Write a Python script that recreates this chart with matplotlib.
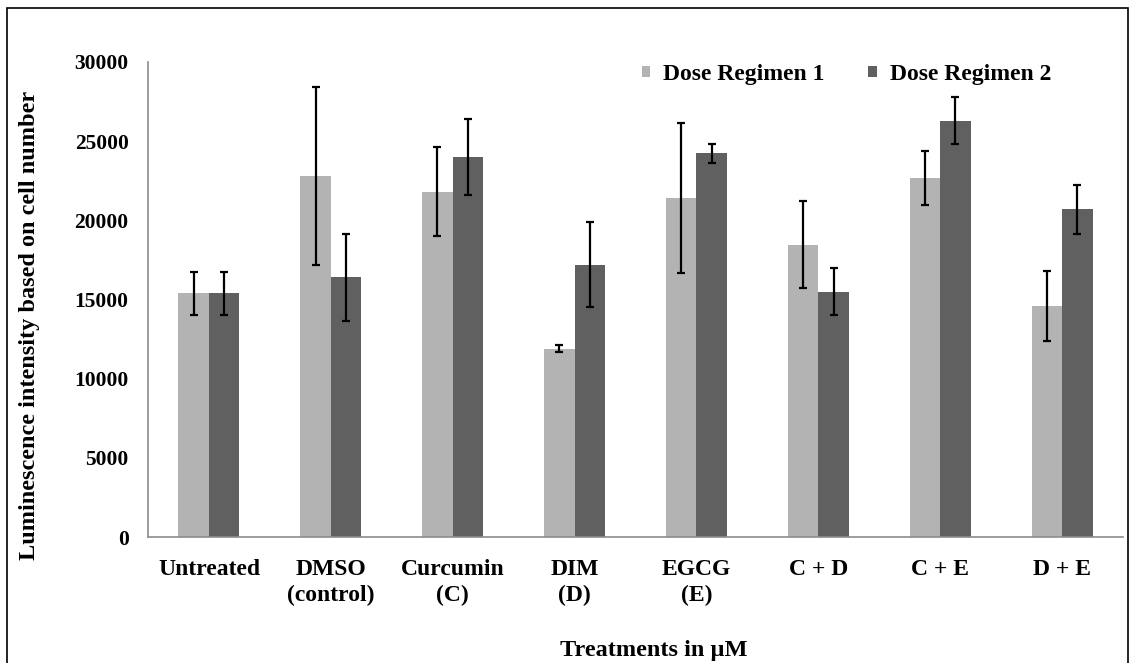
import matplotlib.pyplot as plt
import numpy as np
from matplotlib.patches import Rectangle

plt.rcParams['font.family'] = ['Liberation Serif', 'DejaVu Serif']
plt.rcParams['font.weight'] = 'bold'

treatments = ['Untreated', 'DMSO\n(control)', 'Curcumin\n(C)', 'DIM\n(D)',
              'EGCG\n(E)', 'C + D', 'C + E', 'D + E']
regimen1 = [15400, 22800, 21800, 11900, 21400, 18450, 22700, 14600]
regimen1_err = [1350, 5600, 2800, 230, 4750, 2750, 1700, 2200]
regimen2 = [15400, 16400, 24000, 17200, 24250, 15500, 26300, 20700]
regimen2_err = [1350, 2750, 2400, 2700, 600, 1500, 1500, 1550]

fig = plt.figure(figsize=(11.3, 6.63), dpi=100)
ax = fig.add_axes([0.131, 0.19, 0.8628, 0.7165])

x = np.arange(len(treatments))
w = 0.25
err_kw = dict(ecolor='black', elinewidth=1.6, capsize=3, capthick=1.6)
ax.bar(x - w / 2, regimen1, w, yerr=regimen1_err, color='#b3b3b3',
       label='Dose Regimen 1', error_kw=err_kw)
ax.bar(x + w / 2, regimen2, w, yerr=regimen2_err, color='#606060',
       label='Dose Regimen 2', error_kw=err_kw)

ax.set_xlim(-0.5, len(treatments) - 0.5)
ax.set_ylim(0, 30000)
ax.set_yticks(range(0, 30001, 5000))
ax.set_xticks(x)
ax.set_xticklabels(treatments, fontsize=17, fontweight='bold', linespacing=1.3)
ax.tick_params(axis='y', labelsize=15.5, length=0, pad=14)
ax.tick_params(axis='x', length=0, pad=16)
for lab in ax.get_yticklabels():
    lab.set_fontweight('bold')

for side in ['top', 'right']:
    ax.spines[side].set_visible(False)
for side in ['left', 'bottom']:
    ax.spines[side].set_color('#8c8c8c')
    ax.spines[side].set_linewidth(1.2)

ax.set_ylabel('Luminescence intensity based on cell number', fontsize=17.5,
              fontweight='bold')
ax.yaxis.set_label_coords(-0.111, 0.446)
ax.set_xlabel('Treatments in µM', fontsize=17.5, fontweight='bold')
ax.xaxis.set_label_coords(0.519, -0.217)

ax.legend(loc='center left', bbox_to_anchor=(0.5067, 0.973), ncol=2,
          frameon=False, borderpad=0, borderaxespad=0,
          prop={'size': 17, 'weight': 'bold'}, handlelength=0.35,
          handleheight=0.35, handletextpad=0.55, columnspacing=1.85)

fig.patches.append(Rectangle((0.006, -0.01), 0.992, 0.998, transform=fig.transFigure,
                             fill=False, edgecolor='black', linewidth=1.2))

fig.savefig('out.png', dpi=100)
